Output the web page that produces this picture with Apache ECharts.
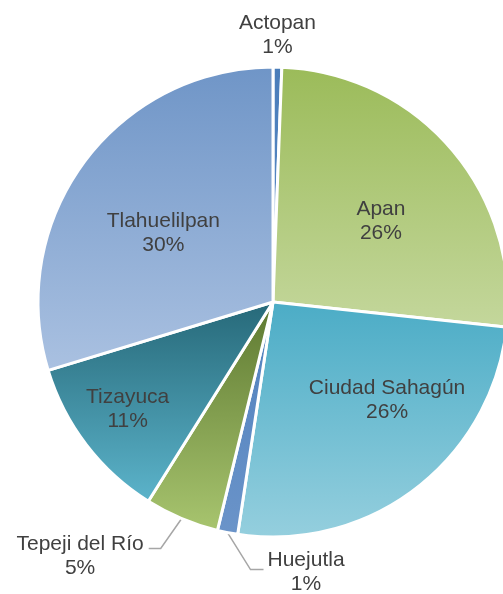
<!DOCTYPE html>
<html>
<head>
<meta charset="utf-8">
<script src="https://cdn.jsdelivr.net/npm/echarts@6/dist/echarts.min.js"></script>
<style>
html,body{margin:0;padding:0;background:#fff;}
#chart{width:503px;height:594px;}
</style>
</head>
<body>
<div id="chart"></div>
<script>
// ---- data ----
const categories = ['Actopan', 'Apan', 'Ciudad Sahagún', 'Huejutla', 'Tepeji del Río', 'Tizayuca', 'Tlahuelilpan'];
const values = [0.6, 26.1, 25.7, 1.4, 5.1, 11.4, 29.7];

// ---- styles ----
const colorTop = ['#4a7dba', '#9bbb59', '#4bacc6', '#4f80bd', '#5d7830', '#266878', '#6f95c7'];
const colorBottom = ['#5a8bc6', '#c4d79c', '#95cfde', '#6b94c9', '#a8c56f', '#5cb4cb', '#aac1e1'];
// inside labels: angle offset (deg) from slice mid-angle, radius fraction
const labelStyle = {
  'Actopan':        { mode: 'top', gap: 6 },
  'Apan':           { mode: 'inside', da: 4, f: 0.574 },
  'Ciudad Sahagún': { mode: 'inside', da: -11.7, f: 0.64 },
  'Huejutla':       { mode: 'line', seg: [23, 37], seg2: 13, side: 1, pad: 4, vy: 3 },
  'Tepeji del Río': { mode: 'line', seg: [-21, 30], seg2: 12, side: -1, pad: 5, vy: 8 },
  'Tizayuca':       { mode: 'inside', da: 1.1, f: 0.768 },
  'Tlahuelilpan':   { mode: 'inside', da: -4.6, f: 0.55 }
};
const CX = 273, CY = 302, R = 235;
const FONT = '"Liberation Sans", Arial, sans-serif';

const total = values.reduce((a, b) => a + b, 0);
function midAngle(idx) {
  let cum = 0;
  for (let i = 0; i < idx; i++) cum += values[i];
  return (cum + values[idx] / 2) / total * 360;
}

const chart = echarts.init(document.getElementById('chart'), null, { renderer: 'canvas' });

const data = categories.map((name, i) => {
  const st = labelStyle[name];
  return {
    name: name,
    value: values[i],
    itemStyle: {
      color: new echarts.graphic.LinearGradient(0, 0, 0, 1, [
        { offset: 0, color: colorTop[i] },
        { offset: 1, color: colorBottom[i] }
      ])
    },
    label: { position: st.mode === 'inside' ? 'inside' : 'outside' },
    labelLine: { show: st.mode === 'line' }
  };
});

chart.setOption({
  animation: false,
  backgroundColor: '#ffffff',
  series: [{
    type: 'pie',
    center: [CX, CY],
    radius: R,
    startAngle: 90,
    clockwise: true,
    avoidLabelOverlap: false,
    percentPrecision: 0,
    itemStyle: { borderColor: '#ffffff', borderWidth: 3 },
    label: {
      show: true,
      formatter: '{n|{b}}\n{n|{d}%}',
      rich: {
        n: { align: 'center', fontSize: 21, lineHeight: 24, color: '#404040', fontFamily: FONT }
      }
    },
    labelLine: {
      show: true,
      length: 30,
      length2: 12,
      lineStyle: { color: '#a6a6a6', width: 1.5 }
    },
    labelLayout: function (p) {
      const name = categories[p.dataIndex];
      const st = labelStyle[name];
      if (st.mode === 'inside') {
        const a = (midAngle(p.dataIndex) + st.da) * Math.PI / 180;
        return {
          x: CX + st.f * R * Math.sin(a),
          y: CY - st.f * R * Math.cos(a),
          align: 'center',
          verticalAlign: 'middle'
        };
      }
      if (st.mode === 'top') {
        const r = p.rect;
        return { x: r.x + r.width / 2, y: r.y - st.gap, align: 'center', verticalAlign: 'bottom' };
      }
      // leader-line labels
      let p0;
      if (p.labelLinePoints && p.labelLinePoints.length) {
        p0 = p.labelLinePoints[0];
      } else {
        const a = midAngle(p.dataIndex) * Math.PI / 180;
        p0 = [CX + R * Math.sin(a), CY - R * Math.cos(a)];
      }
      const p1 = [p0[0] + st.seg[0], p0[1] + st.seg[1]];
      const p2 = [p1[0] + st.side * st.seg2, p1[1]];
      return {
        x: p2[0] + st.side * st.pad,
        y: p2[1] + st.vy,
        align: st.side > 0 ? 'left' : 'right',
        verticalAlign: 'middle',
        labelLinePoints: [p0, p1, p2]
      };
    },
    data: data
  }]
});
</script>
</body>
</html>
